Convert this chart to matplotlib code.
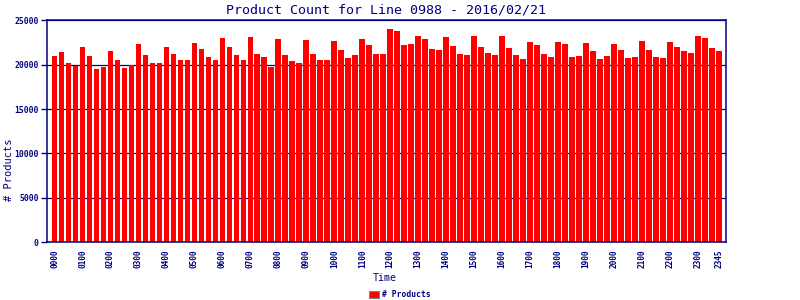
import matplotlib
matplotlib.use("Agg")
import matplotlib.pyplot as plt

# 15-minute buckets, 0000 .. 2345
times = ["%02d%02d" % (h, m) for h in range(24) for m in (0, 15, 30, 45)]
counts = [
    20970, 21420, 20180, 19840, 21990, 20970, 19500, 19730,
    21530, 20520, 19620, 19950, 22320, 21080, 20180, 20180,
    21990, 21200, 20520, 20520, 22440, 21760, 20860, 20520,
    23000, 21990, 21080, 20520, 23110, 21200, 20860, 19730,
    22890, 21080, 20410, 20180, 22770, 21200, 20520, 20520,
    22660, 21650, 20740, 21080, 22890, 22210, 21200, 21200,
    24020, 23790, 22210, 22320, 23230, 22890, 21760, 21650,
    23110, 22100, 21200, 21080, 23230, 21990, 21310, 21080,
    23230, 21870, 21080, 20630, 22550, 22210, 21200, 20860,
    22550, 22320, 20860, 20970, 22440, 21530, 20630, 20970,
    22320, 21650, 20740, 20860, 22660, 21650, 20860, 20740,
    22550, 21990, 21530, 21310, 23230, 23000, 21870, 21530,
]
label_idx = list(range(0, 96, 4)) + [95]
labels = [times[i] for i in label_idx]

navy = "#000080"
mono = "DejaVu Sans Mono"

fig = plt.figure(figsize=(8, 3), dpi=100)
ax = fig.add_axes([0.059, 0.193, 0.848, 0.739])

x = list(range(len(counts)))
ax.bar(x, counts, width=0.82, color="#ff0000", label="# Products", zorder=2)

ax.set_xlim(-1.05, 95.95)
ax.set_ylim(0, 25000)
ax.set_yticks([0, 5000, 10000, 15000, 20000, 25000])
ax.yaxis.grid(True, color=navy, linewidth=0.9, zorder=1)
ax.set_axisbelow(True)

ax.set_xticks(label_idx)
ax.set_xticklabels(labels, rotation=90, fontsize=5.6, family=mono,
                   fontweight="bold", color=navy)
ax.tick_params(axis="x", length=0, pad=5)
ax.tick_params(axis="y", length=4, width=1, color=navy, pad=2,
               labelsize=5.8, labelcolor=navy)
for t in ax.get_yticklabels():
    t.set_family(mono)
    t.set_fontweight("bold")

for s in ax.spines.values():
    s.set_color(navy)
    s.set_linewidth(1.1)

ax.set_title("Product Count for Line 0988 - 2016/02/21", fontsize=9.6,
             family=mono, color=navy, pad=5)
fig.text(0.011, 0.435, "# Products", rotation=90, fontsize=7.5, family=mono,
         color=navy, ha="center", va="center")
fig.text(0.481, 0.073, "Time", fontsize=7.2, family=mono, color=navy,
         ha="center", va="center")

leg = fig.legend(loc="center", bbox_to_anchor=(0.5, 0.017), ncol=1,
                 frameon=False, handlelength=1.3, handleheight=0.9,
                 handletextpad=0.4, borderpad=0,
                 prop={"family": mono, "size": 5.8, "weight": "bold"})
for t in leg.get_texts():
    t.set_color(navy)
for h in leg.legend_handles:
    h.set_edgecolor("#808080")
    h.set_linewidth(0.8)

fig.savefig("out.png", dpi=100)
